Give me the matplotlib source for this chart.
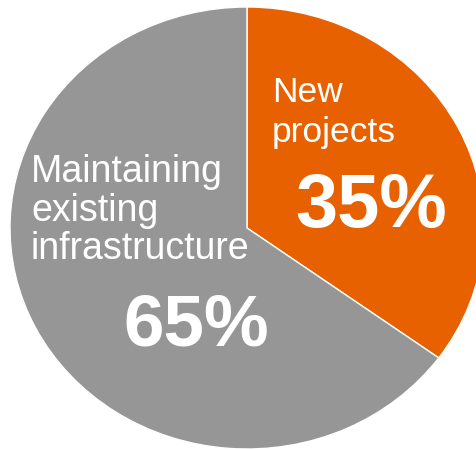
import matplotlib
matplotlib.use("Agg")
import matplotlib.pyplot as plt

categories = ["New projects", "Maintaining existing infrastructure"]
values = [35, 65]
pct_labels = ["35%", "65%"]
colors = ["#E86100", "#969696"]

W, H = 477, 449
fig = plt.figure(figsize=(W / 100, H / 100), dpi=100)
plt.rcParams['font.family'] = ['Liberation Sans', 'DejaVu Sans']

# axes spanning the elliptical pie (center ~ (247,228), rx~237, ry~221 px)
cx, cy, rx, ry = 247, 228, 237, 221
ax = fig.add_axes([(cx - rx) / W, 1 - (cy + ry) / H, 2 * rx / W, 2 * ry / H])
ax.pie(values, colors=colors, startangle=90, counterclock=False,
       wedgeprops=dict(edgecolor="white", linewidth=1))
ax.set_aspect('auto')
ax.set_xlim(-1, 1)
ax.set_ylim(-1, 1)
ax.axis('off')

def px(x, y):
    return x / W, 1 - y / H

# Maintaining label (gray slice)
for line, base in zip(["Maintaining", "existing", "infrastructure"], [182, 221, 259]):
    fig.text(*px(31, base), line, color="white", fontsize=27, ha="left", va="baseline")
fig.text(*px(123, 345), pct_labels[1], color="white", fontsize=52.5,
         fontweight="bold", ha="left", va="baseline")

# New projects label (orange slice)
for line, base in zip(["New", "projects"], [102, 142]):
    fig.text(*px(272, base), line, color="white", fontsize=25.5, ha="left", va="baseline")
fig.text(*px(295, 227), pct_labels[0], color="white", fontsize=54.5,
         fontweight="bold", ha="left", va="baseline")

fig.savefig("out.png", dpi=100)
